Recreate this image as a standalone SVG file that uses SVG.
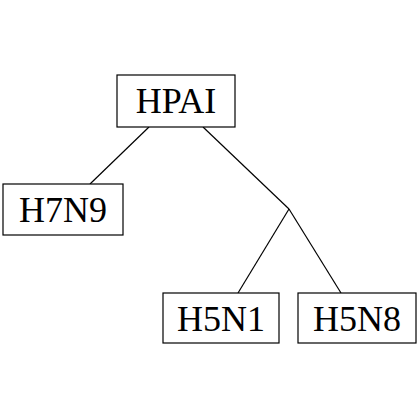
<svg xmlns="http://www.w3.org/2000/svg" width="420" height="420" viewBox="0 0 420 420">
<style>
.box{fill:#fff;stroke:#000;stroke-width:1.2}
text{font-family:"Liberation Serif","DejaVu Serif",serif;font-size:36px;text-anchor:middle;fill:#000}
line{stroke:#000;stroke-width:1.2}
</style>
<rect width="420" height="420" style="fill:#fff;stroke:none"/>
<g id="connectors">
<line x1="149" y1="127" x2="90" y2="184"/>
<line x1="203" y1="127" x2="289" y2="209"/>
<line x1="289" y1="209" x2="238" y2="293"/>
<line x1="289" y1="209" x2="341" y2="293"/>
</g>
<g id="HPAI"><rect class="box" x="117" y="75" width="118" height="52"/><text x="176" y="113">HPAI</text></g>
<g id="H7N9"><rect class="box" x="3" y="184" width="120" height="51"/><text x="63" y="222">H7N9</text></g>
<g id="H5N1"><rect class="box" x="163" y="293" width="116" height="50"/><text x="221" y="331">H5N1</text></g>
<g id="H5N8"><rect class="box" x="298" y="293" width="118" height="50"/><text x="357" y="331">H5N8</text></g>
</svg>
